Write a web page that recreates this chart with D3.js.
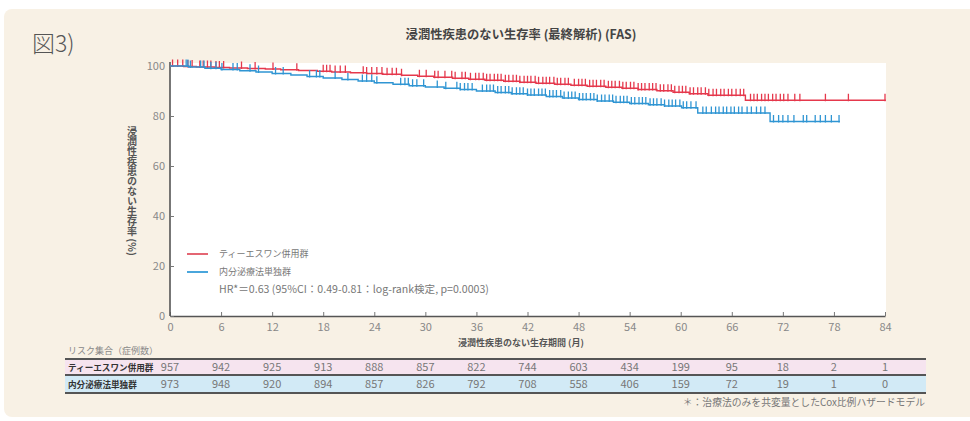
<!DOCTYPE html>
<html lang="ja">
<head>
<meta charset="utf-8">
<script src="https://cdn.jsdelivr.net/npm/d3@7/dist/d3.min.js"></script>
<style>
  html, body { margin: 0; padding: 0; background: #ffffff; }
  svg { display: block; }
  text { font-family: "Noto Sans CJK JP", "Noto Sans", sans-serif; }
</style>
</head>
<body>
<svg id="chart" width="970" height="421"></svg>
<script>
// Months shown on the x axis and used as columns of the at-risk table
const monthTicks = [0, 6, 12, 18, 24, 30, 36, 42, 48, 54, 60, 66, 72, 78, 84];
const survTicks = [0, 20, 40, 60, 80, 100];

const groupNames = ["ティーエスワン併用群", "内分泌療法単独群"];

// Numbers at risk per column
const riskS1 = [957, 942, 925, 913, 888, 857, 822, 744, 603, 434, 199, 95, 18, 2, 1];
const riskEndo = [973, 948, 920, 894, 857, 826, 792, 708, 558, 406, 159, 72, 19, 1, 0];

// Kaplan–Meier steps: event month and survival (%) after it
const s1Months = [0, 1.6, 3.1, 5.2, 7.0, 9.1, 11.2, 13.0, 15.1, 17.3, 19.0, 21.2, 23.1, 25.0, 27.2, 29.1, 31.0, 33.2, 35.1, 37.0, 39.2, 41.1, 43.0, 45.2, 47.1, 49.0, 51.2, 53.1, 55.0, 57.2, 59.1, 61.0, 63.2, 67.6, 84.1];
const s1Surv = [100, 99.8, 99.6, 99.4, 99.2, 99.0, 98.8, 98.5, 98.2, 97.9, 97.6, 97.3, 97.0, 96.7, 96.3, 95.9, 95.5, 95.1, 94.7, 94.3, 93.9, 93.5, 93.1, 92.7, 92.3, 91.9, 91.5, 91.1, 90.6, 90.1, 89.5, 88.9, 88.3, 86.3, 86.3];

const endoMonths = [0, 2.2, 4.1, 6.0, 8.2, 10.1, 12.0, 14.2, 16.1, 18.0, 20.2, 22.1, 24.0, 26.2, 28.1, 30.0, 32.2, 34.1, 36.0, 38.2, 40.1, 42.0, 44.2, 46.1, 48.0, 50.2, 52.1, 54.0, 56.2, 58.1, 60.1, 62.0, 70.5, 78.7];
const endoSurv = [100, 99.6, 99.1, 98.6, 98.1, 97.6, 97.0, 96.4, 95.8, 95.2, 94.6, 94.0, 93.3, 92.7, 92.1, 91.6, 91.1, 90.6, 90.0, 89.4, 88.9, 88.4, 87.8, 87.2, 86.6, 86.0, 85.5, 85.0, 84.5, 84.0, 83.3, 81.2, 77.8, 77.8];

// Censored patients (months)
const s1Censor = [0.3, 0.9, 1.5, 2.1, 2.6, 3.5, 3.9, 4.4, 4.8, 5.4, 5.8, 6.3, 8.4, 10.0, 12.1, 14.9, 18.0, 18.4, 18.8, 19.4, 20.0, 20.6, 22.7, 23.1, 23.7, 24.3, 24.9, 25.5, 26.1, 26.6, 27.2, 29.3, 30.1, 31.1, 31.5, 32.3, 33.1, 33.5, 34.3, 34.7, 35.3, 35.9, 36.3, 36.8, 37.2, 37.6, 38.1, 38.5, 38.9, 39.4, 39.8, 40.3, 40.7, 41.1, 41.6, 42.0, 42.4, 42.9, 43.3, 43.8, 44.2, 44.6, 45.1, 45.5, 45.9, 46.4, 46.8, 47.5, 48.0, 48.4, 48.8, 49.3, 49.7, 50.1, 50.6, 51.0, 51.5, 51.9, 52.3, 52.8, 53.2, 53.6, 54.1, 54.5, 55.0, 55.4, 55.8, 56.3, 56.7, 57.1, 57.6, 58.0, 58.5, 58.9, 59.3, 59.8, 60.2, 60.6, 61.1, 61.5, 62.0, 62.4, 62.9, 63.3, 63.8, 64.2, 64.7, 65.1, 65.6, 66.0, 66.5, 67.0, 67.4, 68.2, 68.6, 69.0, 69.5, 69.9, 70.3, 70.8, 71.2, 71.7, 72.1, 72.6, 73.4, 74.0, 77.0, 79.7, 84.0];
const endoCensor = [1.9, 2.1, 2.4, 3.6, 4.0, 4.8, 5.4, 6.1, 7.4, 7.9, 9.4, 10.4, 12.4, 13.3, 16.4, 17.2, 17.6, 19.4, 20.9, 22.6, 23.1, 23.7, 24.3, 27.1, 27.6, 28.0, 28.5, 29.0, 29.8, 31.4, 32.4, 33.7, 34.1, 34.6, 35.0, 35.5, 36.7, 37.2, 37.6, 38.0, 38.5, 38.9, 39.4, 39.8, 40.2, 40.7, 41.1, 41.5, 42.0, 42.4, 42.8, 43.3, 43.7, 44.1, 44.6, 45.0, 45.4, 45.9, 46.3, 46.8, 47.2, 47.6, 48.1, 48.5, 48.9, 49.4, 49.8, 50.2, 50.7, 51.1, 51.6, 52.0, 52.4, 52.9, 53.3, 53.7, 54.2, 54.6, 55.1, 55.5, 55.9, 56.4, 56.8, 57.2, 57.7, 58.1, 58.6, 59.0, 59.4, 59.9, 60.3, 60.7, 61.2, 61.8, 62.6, 63.0, 63.6, 64.1, 64.5, 65.0, 65.4, 65.9, 66.3, 66.8, 67.2, 67.8, 68.3, 68.9, 69.4, 69.9, 70.9, 71.5, 72.0, 72.6, 73.3, 74.4, 74.8, 75.8, 76.4, 77.0, 77.7, 78.6];

const RED = "#e5384c";
const BLUE = "#2f95d3";
const LEGEND_RED = "#e46673";
const LEGEND_BLUE = "#4aa6dc";

const svg = d3.select("#chart");

// Panel background
svg.append("rect")
  .attr("x", 4).attr("y", 9).attr("width", 980).attr("height", 408)
  .attr("rx", 8).attr("fill", "#f8f1e5");

svg.append("text")
  .attr("x", 32).attr("y", 52)
  .attr("font-size", 23).attr("font-weight", 300).attr("fill", "#555")
  .text("図3)");

svg.append("text")
  .attr("x", 521).attr("y", 39).attr("text-anchor", "middle")
  .attr("font-size", 12.3).attr("font-weight", 700).attr("fill", "#444")
  .text("浸潤性疾患のない生存率 (最終解析) (FAS)");

const x = d3.scaleLinear().domain([0, 84]).range([170, 885]);
const y = d3.scaleLinear().domain([0, 100]).range([316, 66]);

// Plot area
svg.append("rect")
  .attr("x", x(0)).attr("y", 63)
  .attr("width", x(84) - x(0) + 1).attr("height", y(0) - 63)
  .attr("fill", "#ffffff");

// Axes
const xAxis = svg.append("g")
  .attr("transform", `translate(0,${y(0)})`)
  .call(d3.axisBottom(x).tickValues(monthTicks).tickSizeInner(-4).tickSizeOuter(0).tickPadding(7));
const yAxis = svg.append("g")
  .attr("transform", `translate(${x(0)},0)`)
  .call(d3.axisLeft(y).tickValues(survTicks).tickSizeInner(-4).tickSizeOuter(0).tickPadding(5));

[xAxis, yAxis].forEach(g => {
  g.select(".domain").attr("stroke", "#555").attr("stroke-width", 1.6);
  g.selectAll(".tick line").attr("stroke", "#777").attr("stroke-width", 1);
  g.selectAll(".tick text")
    .attr("fill", "#888").attr("font-size", 11)
    .attr("font-family", "\"Noto Sans CJK JP\", sans-serif");
});
yAxis.select(".domain").attr("d", `M0,${y(0)}V62`);

// Axis titles
svg.append("text")
  .attr("x", 458).attr("y", 346)
  .attr("font-size", 9).attr("font-weight", 700).attr("fill", "#555")
  .text("浸潤性疾患のない生存期間 (月)");

svg.append("text")
  .attr("x", 132).attr("y", 191)
  .attr("text-anchor", "middle")
  .style("writing-mode", "vertical-rl")
  .attr("font-size", 10).attr("font-weight", 700).attr("fill", "#555")
  .text("浸潤性疾患のない生存率 (%)");

// Survival curves
const groups = [
  { months: s1Months, surv: s1Surv, censor: s1Censor, color: RED },
  { months: endoMonths, surv: endoSurv, censor: endoCensor, color: BLUE }
];

const line = d3.line()
  .x(d => x(d[0]))
  .y(d => y(d[1]))
  .curve(d3.curveStepAfter);

const bis = d3.bisector(d => d).right;

groups.forEach(gr => {
  const pts = gr.months.map((m, i) => [m, gr.surv[i]]);
  svg.append("path")
    .attr("d", line(pts))
    .attr("fill", "none")
    .attr("stroke", gr.color)
    .attr("stroke-width", 1.4);

  const survAt = t => gr.surv[Math.max(0, bis(gr.months, t) - 1)];
  svg.append("g").selectAll("line")
    .data(gr.censor)
    .join("line")
    .attr("x1", d => x(d)).attr("x2", d => x(d))
    .attr("y1", d => y(survAt(d)) + 1)
    .attr("y2", d => y(survAt(d)) - 6.5)
    .attr("stroke", gr.color)
    .attr("stroke-width", 1.3);
});

// Legend
const legend = svg.append("g");
[LEGEND_RED, LEGEND_BLUE].forEach((c, i) => {
  legend.append("line")
    .attr("x1", 187).attr("x2", 208)
    .attr("y1", 254 + i * 18).attr("y2", 254 + i * 18)
    .attr("stroke", c).attr("stroke-width", 2);
  legend.append("text")
    .attr("x", 219).attr("y", 257 + i * 18)
    .attr("font-size", 9).attr("fill", "#777")
    .text(groupNames[i]);
});
legend.append("text")
  .attr("x", 219).attr("y", 293)
  .attr("font-size", 10.6).attr("fill", "#777")
  .text("HR*＝0.63 (95%CI：0.49-0.81：log-rank検定, p=0.0003)");

// At-risk table
svg.append("text")
  .attr("x", 68).attr("y", 354)
  .attr("font-size", 9).attr("fill", "#888")
  .text("リスク集合（症例数）");

const rows = [
  { name: groupNames[0], values: riskS1, fill: "#f6e4ef", top: 359, bottom: 375 },
  { name: groupNames[1], values: riskEndo, fill: "#d2eaf6", top: 375, bottom: 393 }
];

rows.forEach(r => {
  svg.append("rect")
    .attr("x", 65).attr("y", r.top)
    .attr("width", 926 - 65).attr("height", r.bottom - r.top)
    .attr("fill", r.fill);
  const cy = (r.top + r.bottom) / 2 + 4;
  svg.append("text")
    .attr("x", 68).attr("y", cy - 0.5)
    .attr("font-size", 8.6).attr("font-weight", 700).attr("fill", "#333")
    .text(r.name);
  svg.append("g").selectAll("text")
    .data(r.values)
    .join("text")
    .attr("x", (d, i) => x(monthTicks[i]))
    .attr("y", cy)
    .attr("text-anchor", "middle")
    .attr("font-size", 11).attr("fill", "#777")
    .text(d => d);
});

[359, 375, 393].forEach(yy => {
  svg.append("line")
    .attr("x1", 65).attr("x2", 926)
    .attr("y1", yy).attr("y2", yy)
    .attr("stroke", "#555").attr("stroke-width", 1.8);
});

svg.append("text")
  .attr("x", 925).attr("y", 406).attr("text-anchor", "end")
  .attr("font-size", 9.8).attr("fill", "#777")
  .text("＊：治療法のみを共変量としたCox比例ハザードモデル");
</script>
</body>
</html>
